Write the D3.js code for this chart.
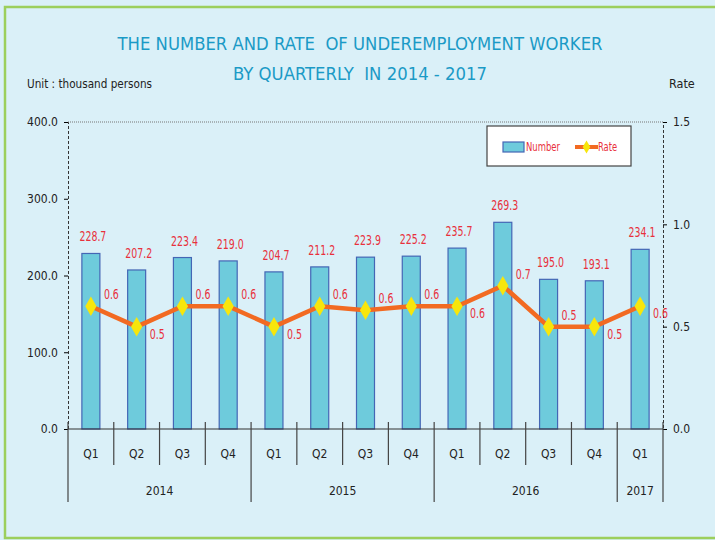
<!DOCTYPE html>
<html>
<head>
<meta charset="utf-8">
<script src="https://cdn.jsdelivr.net/npm/d3@7"></script>
<style>
	body { margin: 0; background: #daf0f8; }
	svg text { font-family: "DejaVu Sans Condensed", "DejaVu Sans", sans-serif; }
</style>
</head>
<body>
<svg id="chart"></svg>
<script>
const quarters = ["Q1", "Q2", "Q3", "Q4", "Q1", "Q2", "Q3", "Q4", "Q1", "Q2", "Q3", "Q4", "Q1"];
const years = ["2014", "2014", "2014", "2014", "2015", "2015", "2015", "2015", "2016", "2016", "2016", "2016", "2017"];
const numberValues = [228.7, 207.2, 223.4, 219.0, 204.7, 211.2, 223.9, 225.2, 235.7, 269.3, 195.0, 193.1, 234.1];
const rateValues = [0.6, 0.5, 0.6, 0.6, 0.5, 0.6, 0.58, 0.6, 0.6, 0.7, 0.5, 0.5, 0.6];
const leftTicks = [0, 100, 200, 300, 400];
const rightTicks = [0, 0.5, 1.0, 1.5];

const width = 715, height = 540;
const plot = {left: 68, right: 663, top: 122, bottom: 429};
const red = "#e8303c";

const svg = d3.select("#chart")
		.attr("width", width)
		.attr("height", height);

// frame
svg.append("rect")
	.attr("x", 0).attr("y", 0).attr("width", width).attr("height", height)
	.attr("fill", "#daf0f8");
svg.append("rect")
	.attr("x", 5).attr("y", 7).attr("width", 716).attr("height", 531)
	.attr("fill", "none").attr("stroke", "#9ccf5c").attr("stroke-width", 2.5);

const idx = d3.range(quarters.length);
const x = d3.scaleBand().domain(idx).range([plot.left, plot.right]);
const y = d3.scaleLinear().domain([0, 400]).range([plot.bottom, plot.top]);
const yRate = d3.scaleLinear().domain([0, 1.5]).range([plot.bottom, plot.top]);
const cx = function(i) { return x(i) + x.bandwidth() / 2 };

// title
const titleLines = ["THE NUMBER AND RATE  OF UNDEREMPLOYMENT WORKER", "BY QUARTERLY  IN 2014 - 2017"];
const titleWidths = [485, 254];
svg.selectAll(".title")
	.data(titleLines)
	.enter()
	.append("text")
	.attr("x", 360)
	.attr("y", function(d, i) { return 50 + i * 30 })
	.attr("text-anchor", "middle")
	.attr("font-size", 17)
	.attr("fill", "#1b9ac6")
	.attr("textLength", function(d, i) { return titleWidths[i] })
	.attr("lengthAdjust", "spacingAndGlyphs")
	.style("white-space", "pre")
	.text(function(d) { return d });

svg.append("text").attr("x", 27).attr("y", 88).attr("font-size", 12.5)
	.attr("textLength", 125).attr("lengthAdjust", "spacingAndGlyphs")
	.attr("fill", "#222").text("Unit : thousand persons");
svg.append("text").attr("x", 669).attr("y", 88).attr("font-size", 12.5)
	.attr("fill", "#222").text("Rate");

// top gridline
svg.append("line")
	.attr("x1", plot.left).attr("x2", plot.right)
	.attr("y1", y(400)).attr("y2", y(400))
	.attr("stroke", "#777").attr("stroke-dasharray", "1,1");

// left axis
const leftAxis = svg.append("g").attr("transform", "translate(" + plot.left + ",0)")
	.call(d3.axisLeft(y).tickValues(leftTicks).tickSize(4).tickPadding(6)
		.tickFormat(d3.format(".1f")));
leftAxis.select(".domain").attr("stroke", "#333").attr("stroke-dasharray", "3,2");
leftAxis.selectAll("text").attr("font-size", 12).attr("fill", "#222");

// right axis
const rightAxis = svg.append("g").attr("transform", "translate(" + plot.right + ",0)")
	.call(d3.axisRight(yRate).tickValues(rightTicks).tickSize(4).tickPadding(6)
		.tickFormat(d3.format(".1f")));
rightAxis.select(".domain").attr("stroke", "#333").attr("stroke-dasharray", "3,2");
rightAxis.selectAll("text").attr("font-size", 12).attr("fill", "#222");

// bars
const barWidth = 18;
svg.selectAll(".bar")
	.data(numberValues)
	.enter()
	.append("rect")
	.attr("x", function(d, i) { return cx(i) - barWidth / 2 })
	.attr("y", function(d) { return y(d) })
	.attr("width", barWidth)
	.attr("height", function(d) { return y(0) - y(d) })
	.attr("fill", "#6ecbdc")
	.attr("stroke", "#4466b5")
	.attr("stroke-width", 1.2);

// bottom axis line
svg.append("line")
	.attr("x1", plot.left).attr("x2", plot.right)
	.attr("y1", plot.bottom).attr("y2", plot.bottom)
	.attr("stroke", "#333").attr("stroke-width", 1.2);

// category separators
const bounds = d3.range(quarters.length + 1);
svg.selectAll(".sep")
	.data(bounds)
	.enter()
	.append("line")
	.attr("x1", function(d) { return plot.left + d * x.step() })
	.attr("x2", function(d) { return plot.left + d * x.step() })
	.attr("y1", plot.bottom - 7)
	.attr("y2", function(d) {
		const isYear = d === 0 || d === quarters.length || years[d] !== years[d - 1];
		return isYear ? 502 : 465;
	})
	.attr("stroke", "#444").attr("stroke-width", 1.2);

svg.selectAll(".qlabel")
	.data(quarters)
	.enter()
	.append("text")
	.attr("x", function(d, i) { return cx(i) })
	.attr("y", 458)
	.attr("text-anchor", "middle")
	.attr("font-size", 12)
	.attr("fill", "#222")
	.text(function(d) { return d });

const yearGroups = d3.groups(idx, function(i) { return years[i] });
svg.selectAll(".ylabel")
	.data(yearGroups)
	.enter()
	.append("text")
	.attr("x", function(d) { return (x(d[1][0]) + x(d[1][d[1].length - 1]) + x.bandwidth()) / 2 })
	.attr("y", 495)
	.attr("text-anchor", "middle")
	.attr("font-size", 12)
	.attr("fill", "#222")
	.text(function(d) { return d[0] });

// rate line
const line = d3.line()
	.x(function(d, i) { return cx(i) })
	.y(function(d) { return yRate(d) });
svg.append("path")
	.datum(rateValues)
	.attr("d", line)
	.attr("fill", "none")
	.attr("stroke", "#f26a22")
	.attr("stroke-width", 4.5);

const diamond = d3.symbol().type(d3.symbolDiamond).size(110);
svg.selectAll(".pt")
	.data(rateValues)
	.enter()
	.append("path")
	.attr("d", diamond)
	.attr("transform", function(d, i) { return "translate(" + cx(i) + "," + yRate(d) + ")" })
	.attr("fill", "#f7e60c");

// data labels (narrow digits like the original)
const charW = 5.4;
svg.selectAll(".nlabel")
	.data(numberValues)
	.enter()
	.append("text")
	.attr("x", function(d, i) { return cx(i) + 2 })
	.attr("y", function(d) { return y(d) - 12 })
	.attr("text-anchor", "middle")
	.attr("font-size", 14.5)
	.attr("fill", red)
	.attr("textLength", function(d) { return d.toFixed(1).length * charW })
	.attr("lengthAdjust", "spacingAndGlyphs")
	.text(function(d) { return d.toFixed(1) });

// rate labels sit under the line where it climbs to the next point
const last = rateValues.length - 1;
svg.selectAll(".rlabel")
	.data(rateValues)
	.enter()
	.append("text")
	.attr("x", function(d, i) { return cx(i) + 13 })
	.attr("y", function(d, i) {
		const below = i === last || rateValues[i + 1] - d > 0.05;
		return yRate(d) + (below ? 12 : -7);
	})
	.attr("font-size", 14.5)
	.attr("fill", red)
	.attr("textLength", 15)
	.attr("lengthAdjust", "spacingAndGlyphs")
	.text(function(d) { return d.toFixed(1) });

// legend
const legend = svg.append("g").attr("transform", "translate(487,126)");
legend.append("rect").attr("width", 144).attr("height", 40)
	.attr("fill", "#fff").attr("stroke", "#444").attr("stroke-width", 1.2);
legend.append("rect").attr("x", 16).attr("y", 16).attr("width", 21).attr("height", 10)
	.attr("fill", "#6ecbdc").attr("stroke", "#4466b5").attr("stroke-width", 1.2);
legend.append("text").attr("x", 39).attr("y", 25).attr("font-size", 12)
	.attr("textLength", 34).attr("lengthAdjust", "spacingAndGlyphs")
	.attr("fill", red).text("Number");
legend.append("line").attr("x1", 88).attr("x2", 111).attr("y1", 21).attr("y2", 21)
	.attr("stroke", "#f26a22").attr("stroke-width", 4);
legend.append("path").attr("d", d3.symbol().type(d3.symbolDiamond).size(50))
	.attr("transform", "translate(99.5,21)").attr("fill", "#f7e60c");
legend.append("text").attr("x", 111).attr("y", 25).attr("font-size", 12)
	.attr("textLength", 19).attr("lengthAdjust", "spacingAndGlyphs")
	.attr("fill", red).text("Rate");
</script>
</body>
</html>
